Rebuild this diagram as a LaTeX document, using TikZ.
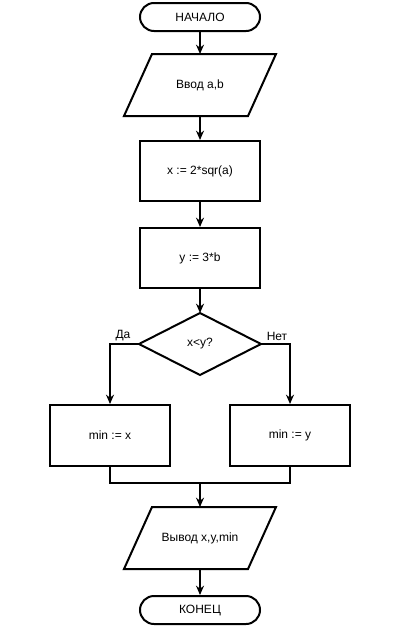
\documentclass[tikz,border=0pt]{standalone}
\usepackage{fontspec}
\setmainfont{Liberation Sans}
\usetikzlibrary{arrows.meta,calc}
\begin{document}
\begin{tikzpicture}[x=0.75pt,y=-0.75pt,
  line width=1.5pt,
  font=\fontsize{9}{11}\selectfont,
  >={Stealth[length=7pt,width=6pt]},
  term/.style={draw,rounded corners=10.5pt,minimum width=90pt,minimum height=21pt,inner sep=0pt},
  procbox/.style={draw,minimum width=90pt,minimum height=45pt,inner sep=0pt},
  iobox/.style={minimum width=112.5pt,minimum height=45pt,inner sep=0pt},
  decbox/.style={minimum width=90pt,minimum height=45pt,inner sep=0pt},
  lbl/.style={font=\fontsize{9}{11}\selectfont,inner sep=1pt}]
\useasboundingbox (0,0) rectangle (400,628);
\node[term] (start) at (200,17) {НАЧАЛО};
\node[iobox] (in) at (200,85) {Ввод a,b};
\draw ($(in.north west)+(21pt,0)$) -- (in.north east) -- ($(in.south east)-(21pt,0)$) -- (in.south west) -- cycle;
\node[procbox] (p1) at (200,171) {x := 2*sqr(a)};
\node[procbox] (p2) at (200,258) {y := 3*b};
\node[decbox] (dec) at (200,344) {x<y?};
\draw (dec.north) -- (dec.east) -- (dec.south) -- (dec.west) -- cycle;
\node[procbox,minimum height=45.75pt] (lx) at (110,435.5) {min := x};
\node[procbox,minimum height=45.75pt] (rx) at (290,435.5) {min := y};
\coordinate (m) at (200,483);
\node[iobox] (out) at (200,538) {Вывод x,y,min};
\draw ($(out.north west)+(21pt,0)$) -- (out.north east) -- ($(out.south east)-(21pt,0)$) -- (out.south west) -- cycle;
\node[term] (end) at (200,610) {КОНЕЦ};
\draw[->] (start) -- (in);
\draw[->] (in) -- (p1);
\draw[->] (p1) -- (p2);
\draw[->] (p2) -- (dec.north);
\draw[->] (dec.west) -| (lx.north);
\draw[->] (dec.east) -| (rx.north);
\node[lbl,anchor=south] (da) at (123,343) {Да};
\node[lbl,anchor=south] (net) at (277,343) {Нет};
\draw (lx.south) |- (m) -| (rx.south);
\draw[->] (m) -- (out.north);
\draw[->] (out) -- (end);
\end{tikzpicture}
\end{document}
